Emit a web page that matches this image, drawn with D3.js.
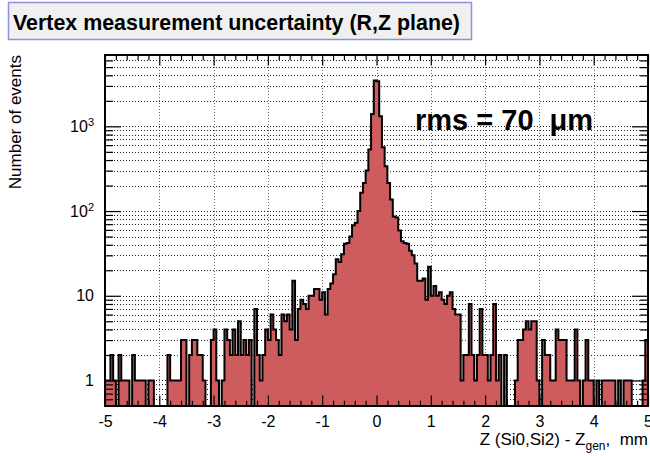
<!DOCTYPE html>
<html>
<head>
<meta charset="utf-8">
<script src="https://cdn.jsdelivr.net/npm/d3@7"></script>
<style>
  html, body { margin: 0; padding: 0; background: #fff; }
  svg { display: block; font-family: "Liberation Sans", Arial, Helvetica, sans-serif; }
</style>
</head>
<body>
<svg id="chart" width="650" height="456"></svg>
<script>
// Histogram binning: 200 bins of 0.05 mm from -5 to 5 mm
const xRange = [-5, 5];
const binWidth = 0.05;

// Events per bin
const counts = [
  1, 1, 2, 1, 0, 2, 1, 1, 1, 0,
  2, 1, 1, 1, 1, 0, 1, 1, 0, 0,
  0, 0, 0, 2, 1, 1, 1, 1, 3, 3,
  0, 2, 3, 3, 2, 2, 1, 0, 0, 3,
  4, 1, 0, 1, 4, 3, 2, 4, 2, 5,
  2, 3, 2, 3, 0, 7, 2, 1, 2, 4,
  3, 6, 4, 3, 2, 6, 5, 6, 4, 15,
  3, 7, 9, 8, 7, 10, 10, 12, 12, 9,
  11, 6, 12, 14, 18, 27, 25, 31, 41, 42,
  50, 68, 73, 100, 164, 215, 301, 532, 1396, 3475,
  3400, 1311, 566, 338, 215, 137, 86, 84, 59, 44,
  42, 41, 34, 30, 24, 15, 15, 16, 9, 22,
  10, 13, 10, 11, 9, 8, 10, 11, 7, 6,
  6, 1, 2, 2, 8, 2, 1, 2, 7, 2,
  2, 1, 2, 8, 1, 2, 0, 2, 0, 0,
  0, 1, 3, 3, 4, 5, 4, 5, 5, 1,
  0, 3, 2, 2, 1, 1, 4, 3, 3, 3,
  1, 1, 1, 4, 1, 0, 1, 3, 1, 1,
  0, 1, 0, 1, 1, 1, 1, 1, 0, 1,
  0, 1, 1, 1, 0, 0, 0, 0, 1, 3
];

// Axis ticks and labels
const xMajorTicks = [-5, -4, -3, -2, -1, 0, 1, 2, 3, 4, 5];
const xMinorStep = 0.2;
const yDecades = [1, 10, 100, 1000];
const yDecadeLabels = [["1", ""], ["10", ""], ["10", "2"], ["10", "3"]];
const yMin = 0.5;

const titleText = "Vertex measurement uncertainty (R,Z plane)";
const yTitle = "Number of events";
const rmsText = "rms = 70  \u03bcm";

// Layout
const W = 650, H = 456;
const frame = { left: 105, right: 648, top: 55, bottom: 406 };
const fillColor = "#ce5c5e";

const svg = d3.select("#chart");

const x = d3.scaleLinear().domain(xRange).range([frame.left, frame.right]);
const yMax = 2 * d3.max(counts);
const y = d3.scaleLog().domain([yMin, yMax]).range([frame.bottom, frame.top]).clamp(true);

// minor log ticks: 1..9 x 10^k inside the domain
const yMinorTicks = [];
for (let e = -1; e <= 4; e++) {
  for (let m = 1; m <= 9; m++) {
    const v = m * Math.pow(10, e);
    if (v > yMin && v < yMax && !yDecades.includes(v)) yMinorTicks.push(v);
  }
}
const yAllTicks = yMinorTicks.concat(yDecades).sort((a, b) => a - b);

const xMinorTicks = d3.range(xRange[0], xRange[1] + 1e-9, xMinorStep)
  .map(v => Math.round(v * 10) / 10)
  .filter(v => !xMajorTicks.includes(v));

// clip to frame
svg.append("defs").append("clipPath").attr("id", "frameClip")
  .append("rect")
  .attr("x", frame.left).attr("y", frame.top)
  .attr("width", frame.right - frame.left).attr("height", frame.bottom - frame.top);

// Grid (dotted), behind the histogram
const grid = svg.append("g").attr("clip-path", "url(#frameClip)");
grid.selectAll("line.hgrid").data(yAllTicks).join("line")
  .attr("class", "hgrid")
  .attr("x1", frame.left).attr("x2", frame.right)
  .attr("y1", d => Math.round(y(d)) + 0.5).attr("y2", d => Math.round(y(d)) + 0.5)
  .attr("stroke", "#222").attr("stroke-width", 1).attr("stroke-dasharray", "1,2");
grid.selectAll("line.vgrid").data(xMajorTicks.slice(1, -1)).join("line")
  .attr("class", "vgrid")
  .attr("y1", frame.top).attr("y2", frame.bottom)
  .attr("x1", d => Math.round(x(d)) + 0.5).attr("x2", d => Math.round(x(d)) + 0.5)
  .attr("stroke", "#666").attr("stroke-width", 1).attr("stroke-dasharray", "1,2");

// Histogram as step polygon
const pts = counts.map((c, i) => ({ edge: xRange[0] + i * binWidth, c }));
pts.push({ edge: xRange[1], c: counts[counts.length - 1] });
const yv = d => y(Math.max(d.c, yMin));

const area = d3.area().curve(d3.curveStepAfter)
  .x(d => x(d.edge)).y0(frame.bottom).y1(yv);
const line = d3.line().curve(d3.curveStepAfter)
  .x(d => x(d.edge)).y(yv);

const hist = svg.append("g").attr("clip-path", "url(#frameClip)");
hist.append("path").datum(pts).attr("d", area).attr("fill", fillColor);
hist.append("path").datum(pts).attr("d", line)
  .attr("fill", "none").attr("stroke", "#000").attr("stroke-width", 2)
  .attr("stroke-linejoin", "miter");

// Axes: ticks pointing inside the frame on all four sides
const fontTick = 16;
function styleAxis(g) {
  g.select(".domain").remove();
  g.selectAll(".tick line").attr("stroke", "#000").attr("stroke-width", 1.2);
}

// bottom major with labels
svg.append("g").attr("transform", `translate(0,${frame.bottom})`)
  .call(d3.axisBottom(x).tickValues(xMajorTicks).tickSize(-10.5).tickPadding(10)
    .tickFormat(d => String(d)))
  .call(styleAxis)
  .call(g => g.selectAll("text").attr("font-size", fontTick)
    .attr("font-family", "Liberation Sans, Arial, sans-serif").attr("fill", "#000"));
// bottom minor
svg.append("g").attr("transform", `translate(0,${frame.bottom})`)
  .call(d3.axisBottom(x).tickValues(xMinorTicks).tickSize(-5.3).tickFormat(""))
  .call(styleAxis);
// top major/minor
svg.append("g").attr("transform", `translate(0,${frame.top})`)
  .call(d3.axisTop(x).tickValues(xMajorTicks).tickSize(-10.5).tickFormat(""))
  .call(styleAxis);
svg.append("g").attr("transform", `translate(0,${frame.top})`)
  .call(d3.axisTop(x).tickValues(xMinorTicks).tickSize(-5.3).tickFormat(""))
  .call(styleAxis);

// left major with labels
const leftAxis = svg.append("g").attr("transform", `translate(${frame.left},0)`)
  .call(d3.axisLeft(y).tickValues(yDecades).tickSize(-16).tickPadding(11).tickFormat(""))
  .call(styleAxis);
leftAxis.selectAll(".tick").each(function (d) {
  const i = yDecades.indexOf(d);
  const [base, sup] = yDecadeLabels[i];
  const t = d3.select(this).select("text")
    .attr("font-size", fontTick).attr("fill", "#000")
    .attr("font-family", "Liberation Sans, Arial, sans-serif");
  t.text(null);
  t.append("tspan").text(base);
  if (sup) t.append("tspan").attr("font-size", 11).attr("dy", "-0.55em").text(sup);
});
svg.append("g").attr("transform", `translate(${frame.left},0)`)
  .call(d3.axisLeft(y).tickValues(yMinorTicks).tickSize(-8).tickFormat(""))
  .call(styleAxis);
// right
svg.append("g").attr("transform", `translate(${frame.right},0)`)
  .call(d3.axisRight(y).tickValues(yDecades).tickSize(-16).tickFormat(""))
  .call(styleAxis);
svg.append("g").attr("transform", `translate(${frame.right},0)`)
  .call(d3.axisRight(y).tickValues(yMinorTicks).tickSize(-8).tickFormat(""))
  .call(styleAxis);

// Frame
svg.append("rect")
  .attr("x", frame.left).attr("y", frame.top)
  .attr("width", frame.right - frame.left).attr("height", frame.bottom - frame.top)
  .attr("fill", "none").attr("stroke", "#000").attr("stroke-width", 2);

// Title box
svg.append("rect")
  .attr("x", 8.5).attr("y", 2.5).attr("width", 463).attr("height", 37)
  .attr("fill", "#f0f0f0").attr("stroke", "#8f8fdc").attr("stroke-width", 1.5);
svg.append("text")
  .attr("x", 13).attr("y", 30)
  .attr("font-size", 21.4).attr("font-weight", "bold").attr("fill", "#000")
  .text(titleText);

// Y axis title
svg.append("text")
  .attr("transform", `translate(21,${frame.top}) rotate(-90)`)
  .attr("text-anchor", "end")
  .attr("font-size", 17).attr("fill", "#000")
  .text(yTitle);

// X axis title with subscript
const xt = svg.append("text")
  .attr("x", frame.right).attr("y", 445)
  .attr("text-anchor", "end")
  .attr("font-size", 17).attr("fill", "#000");
xt.append("tspan").text("Z (Si0,Si2) - Z");
xt.append("tspan").attr("font-size", 12).attr("dy", 5).text("gen");
xt.append("tspan").attr("dy", -5).text(",\u00a0\u00a0mm");

// rms annotation
svg.append("text")
  .attr("x", 415).attr("y", 130)
  .attr("font-size", 29).attr("font-weight", "bold").attr("fill", "#000")
  .attr("xml:space", "preserve")
  .text(rmsText);
</script>
</body>
</html>
